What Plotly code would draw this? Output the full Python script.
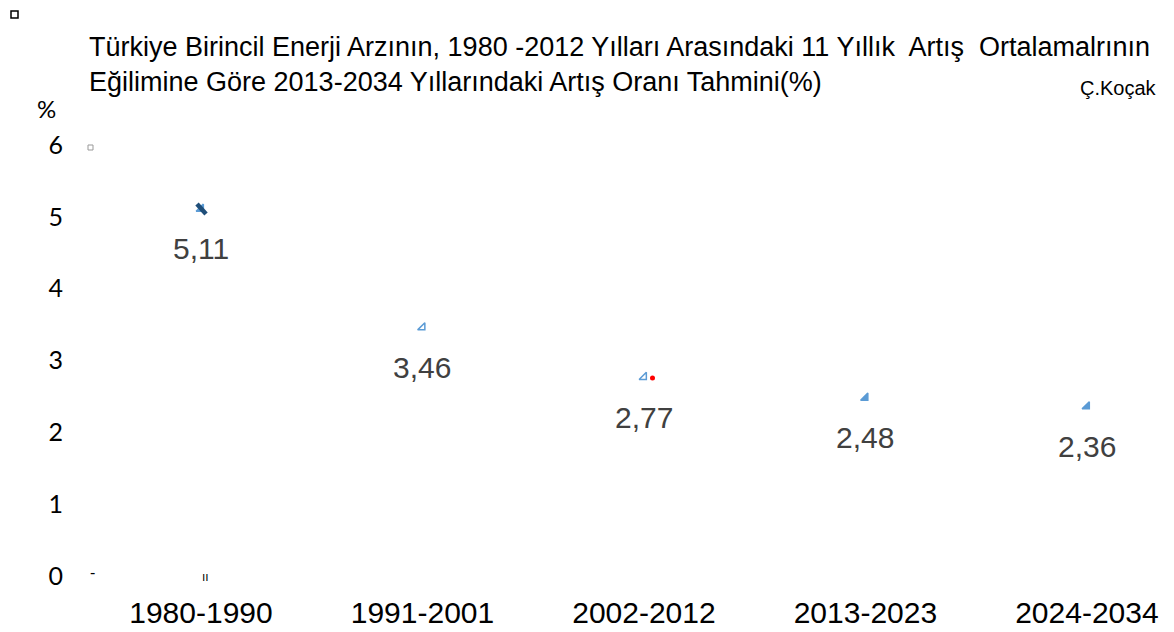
import plotly.graph_objects as go

periods = ["1980-1990", "1991-2001", "2002-2012", "2013-2023", "2024-2034"]
growth = [5.11, 3.46, 2.77, 2.48, 2.36]
growth_labels = ["5,11", "3,46", "2,77", "2,48", "2,36"]
y_ticks = [0, 1, 2, 3, 4, 5, 6]

title_line1 = "Türkiye Birincil Enerji Arzının, 1980 -2012 Yılları Arasındaki 11 Yıllık  Artış  Ortalamalrının"
title_line2 = "Eğilimine Göre 2013-2034 Yıllarındaki Artış Oranı Tahmini(%)"
author = "Ç.Koçak"

# page body has an 8px offset; figure laid out accordingly
OFF = 8
W, H = 1174 - OFF, 632 - OFF
L, R, T, B = 90 - OFF, 14, 130 - OFF, 42
PW, PH = W - L - R, H - T - B

def px(x):
    return (x - OFF - L) / PW

def py(y):
    return (H - B - (y - OFF)) / PH

xs = list(range(len(periods)))

fig = go.Figure()
fig.add_trace(go.Scatter(
    x=xs, y=growth, mode="markers",
    marker=dict(symbol=["triangle-se", "triangle-se-open", "triangle-se-open", "triangle-se", "triangle-se"],
                size=8, color="#5B9BD5", line=dict(color="#5B9BD5", width=1.5)),
    hoverinfo="skip", showlegend=False,
))

annotations = []
for x, y, t in zip(xs, growth, growth_labels):
    annotations.append(dict(x=x, y=y, xref="x", yref="y", text=t, showarrow=False,
                            yshift=-40, font=dict(family="Liberation Sans", size=30, color="#404040")))

annotations += [
    dict(x=px(87), y=py(47), xref="paper", yref="paper", text=title_line1, showarrow=False,
         xanchor="left", yanchor="middle", font=dict(family="Liberation Sans", size=27, color="#000000")),
    dict(x=px(87), y=py(82), xref="paper", yref="paper", text=title_line2, showarrow=False,
         xanchor="left", yanchor="middle", font=dict(family="Liberation Sans", size=27, color="#000000")),
    dict(x=px(1159), y=py(88), xref="paper", yref="paper", text=author, showarrow=False,
         xanchor="right", yanchor="middle", font=dict(family="Liberation Sans", size=20, color="#000000")),
    dict(x=px(46), y=py(109), xref="paper", yref="paper", text="%", showarrow=False,
         xanchor="center", yanchor="middle", font=dict(family="Lato", size=24, color="#000000")),
    dict(x=px(92), y=py(572), xref="paper", yref="paper", text="-", showarrow=False,
         xanchor="center", yanchor="middle", font=dict(family="Liberation Sans", size=16, color="#000000")),
    dict(x=px(205), y=py(577), xref="paper", yref="paper", text="ıı", showarrow=False,
         xanchor="center", yanchor="middle", font=dict(family="Liberation Sans", size=12, color="#000000")),
]

shapes = [
    dict(type="rect", xref="paper", yref="paper", x0=px(11), x1=px(18), y0=py(18), y1=py(11),
         line=dict(color="#000000", width=1.5)),
    dict(type="rect", xref="paper", yref="paper", x0=px(88), x1=px(93), y0=py(150), y1=py(145),
         line=dict(color="#999999", width=1)),
    dict(type="circle", xref="paper", yref="paper", x0=px(650), x1=px(655), y0=py(380.5), y1=py(375.5),
         fillcolor="#FF0000", line=dict(color="#FF0000", width=0)),
    dict(type="line", xref="paper", yref="paper", x0=px(197), x1=px(206), y0=py(204), y1=py(214),
         line=dict(color="#1F4E79", width=4.5)),
]

fig.update_layout(
    width=W, height=H, autosize=False,
    margin=dict(l=L, r=R, t=T, b=B, pad=0),
    paper_bgcolor="#FFFFFF", plot_bgcolor="#FFFFFF",
    showlegend=False,
    annotations=annotations,
    shapes=shapes,
    xaxis=dict(range=[-0.501, 4.33], tickvals=xs, ticktext=periods, showgrid=False, zeroline=False,
               showline=False, ticks="", tickfont=dict(family="Liberation Sans", size=30, color="#000000"),
               ticklabelstandoff=2, fixedrange=True, automargin=False),
    yaxis=dict(range=[-0.195, 6.209], tickvals=y_ticks, showgrid=False, zeroline=False, showline=False,
               ticks="", tickfont=dict(family="Lato", size=25, color="#000000"),
               ticklabelstandoff=26, fixedrange=True, automargin=False),
)

fig.write_html("out.html")
